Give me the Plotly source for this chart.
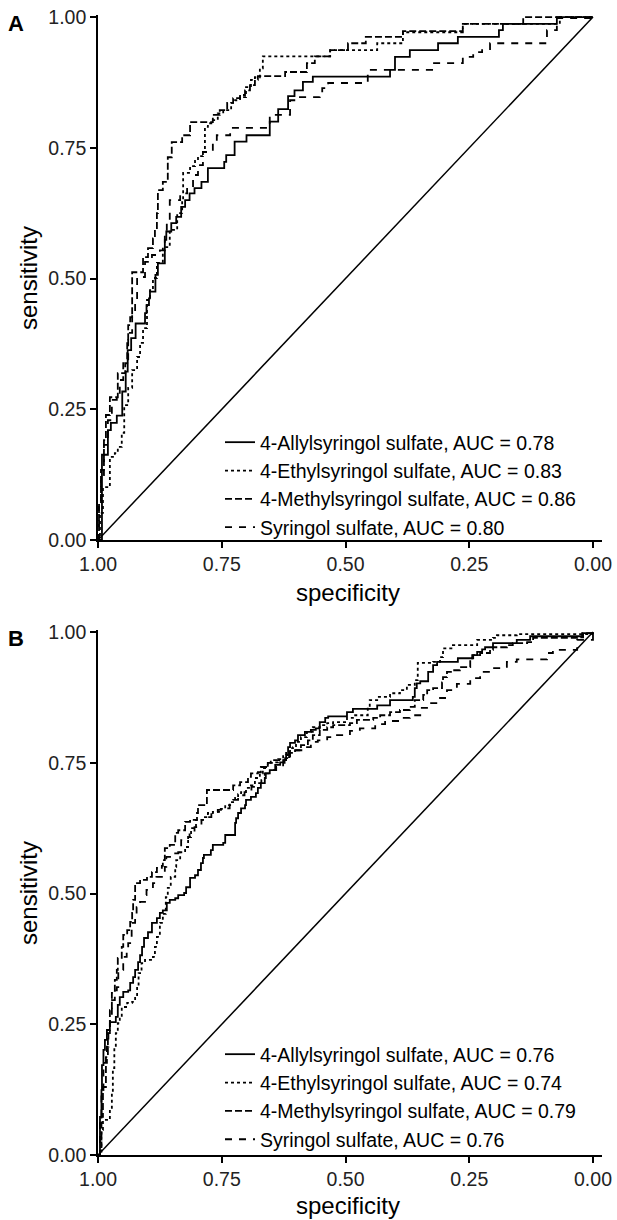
import plotly.graph_objects as go

# ---------------- data ----------------
TICK_VALS = [1.0, 0.75, 0.5, 0.25, 0.0]
TICK_TEXT = ["1.00", "0.75", "0.50", "0.25", "0.00"]

COMPOUNDS = ["4-Allylsyringol sulfate", "4-Ethylsyringol sulfate",
             "4-Methylsyringol sulfate", "Syringol sulfate"]
AUC_A = [0.78, 0.83, 0.86, 0.80]
AUC_B = [0.76, 0.74, 0.79, 0.76]

CHANCE_SPEC = [1.0, 0.0]
CHANCE_SENS = [0.0, 1.0]

# Panel A  (specificity, sensitivity) step points
A_ALLYL_SPEC = [1, 0.992, 0.980, 0.974, 0.962, 0.951, 0.944, 0.940, 0.933, 0.924, 0.905, 0.902, 0.897,
                0.895, 0.884, 0.879, 0.865, 0.862, 0.852, 0.842, 0.832, 0.824, 0.815, 0.805, 0.791, 0.778,
                0.745, 0.741, 0.724, 0.700, 0.653, 0.636, 0.616, 0.603, 0.586, 0.566, 0.410, 0.400, 0.370,
                0.313, 0.273, 0.190, 0.182, 0.073, 0]
A_ALLYL_SENS = [0, 0.163, 0.210, 0.224, 0.238, 0.284, 0.322, 0.363, 0.386, 0.414, 0.434, 0.449, 0.462,
                0.475, 0.507, 0.529, 0.574, 0.590, 0.606, 0.618, 0.637, 0.650, 0.663, 0.673, 0.685, 0.711,
                0.723, 0.736, 0.762, 0.774, 0.800, 0.824, 0.849, 0.860, 0.876, 0.886, 0.899, 0.924, 0.937,
                0.950, 0.962, 0.975, 0.987, 1.0, 1.0]

A_ETHYL_SPEC = [1, 0.996, 0.990, 0.976, 0.966, 0.960, 0.952, 0.947, 0.939, 0.931, 0.921, 0.915, 0.909,
                0.901, 0.895, 0.889, 0.881, 0.869, 0.855, 0.840, 0.830, 0.828, 0.814, 0.804, 0.798, 0.788,
                0.784, 0.778, 0.768, 0.758, 0.747, 0.731, 0.723, 0.713, 0.701, 0.691, 0.683, 0.673, 0.667,
                0.531, 0.436, 0.384, 0.263, 0.067, 0]
A_ETHYL_SENS = [0, 0.052, 0.101, 0.159, 0.166, 0.178, 0.205, 0.258, 0.291, 0.325, 0.350, 0.377, 0.405,
                0.459, 0.478, 0.501, 0.530, 0.560, 0.593, 0.625, 0.650, 0.702, 0.715, 0.725, 0.734, 0.742,
                0.790, 0.797, 0.803, 0.816, 0.822, 0.836, 0.841, 0.847, 0.866, 0.880, 0.885, 0.902, 0.925,
                0.937, 0.950, 0.971, 0.987, 1.0, 1.0]

A_METHYL_SPEC = [1, 0.998, 0.994, 0.988, 0.984, 0.976, 0.960, 0.945, 0.941, 0.939, 0.935, 0.931, 0.909,
                 0.899, 0.889, 0.885, 0.881, 0.879, 0.869, 0.859, 0.851, 0.830, 0.814, 0.768, 0.754, 0.739,
                 0.727, 0.713, 0.703, 0.693, 0.683, 0.677, 0.622, 0.578, 0.562, 0.531, 0.495, 0.459, 0.384,
                 0.263, 0.141, 0]
A_METHYL_SENS = [0, 0.067, 0.134, 0.191, 0.239, 0.273, 0.319, 0.338, 0.382, 0.411, 0.426, 0.512, 0.541,
                 0.558, 0.577, 0.593, 0.625, 0.669, 0.685, 0.732, 0.761, 0.774, 0.799, 0.813, 0.822, 0.836,
                 0.845, 0.851, 0.860, 0.870, 0.880, 0.887, 0.895, 0.912, 0.925, 0.937, 0.950, 0.962, 0.973,
                 0.987, 1.0, 1.0]

A_SYRINGOL_SPEC = [1, 0.998, 0.994, 0.988, 0.980, 0.972, 0.962, 0.956, 0.949, 0.939, 0.931, 0.925, 0.921,
                   0.905, 0.891, 0.875, 0.865, 0.861, 0.855, 0.834, 0.820, 0.808, 0.798, 0.788, 0.768, 0.760,
                   0.733, 0.653, 0.612, 0.592, 0.552, 0.547, 0.535, 0.455, 0.325, 0.263, 0.242, 0.224, 0.208,
                   0.093, 0.073, 0]
A_SYRINGOL_SENS = [0, 0.067, 0.124, 0.182, 0.229, 0.268, 0.273, 0.306, 0.338, 0.396, 0.434, 0.453, 0.503,
                   0.532, 0.545, 0.554, 0.583, 0.612, 0.650, 0.663, 0.675, 0.698, 0.717, 0.742, 0.759, 0.774,
                   0.788, 0.813, 0.841, 0.847, 0.855, 0.864, 0.874, 0.899, 0.912, 0.924, 0.933, 0.937, 0.950,
                   0.975, 0.998, 1.0]

# Panel B
B_ALLYL_SPEC = [1, 0.996, 0.993, 0.992, 0.989, 0.986, 0.982, 0.976, 0.964, 0.960, 0.956, 0.949, 0.939,
                0.935, 0.929, 0.925, 0.919, 0.915, 0.911, 0.907, 0.899, 0.891, 0.881, 0.875, 0.869, 0.861,
                0.855, 0.844, 0.838, 0.826, 0.822, 0.814, 0.804, 0.798, 0.792, 0.788, 0.786, 0.772, 0.768,
                0.747, 0.743, 0.723, 0.721, 0.717, 0.711, 0.703, 0.701, 0.691, 0.681, 0.677, 0.671, 0.663,
                0.661, 0.653, 0.642, 0.632, 0.626, 0.620, 0.616, 0.612, 0.602, 0.596, 0.582, 0.570, 0.560,
                0.552, 0.541, 0.535, 0.497, 0.485, 0.436, 0.410, 0.364, 0.360, 0.356, 0.349, 0.333, 0.323,
                0.315, 0.273, 0.244, 0.234, 0.224, 0.218, 0.202, 0.154, 0.127, 0.022, 0]
B_ALLYL_SENS = [0, 0.073, 0.124, 0.172, 0.201, 0.220, 0.239, 0.254, 0.264, 0.287, 0.302, 0.312, 0.315,
                0.329, 0.340, 0.354, 0.369, 0.382, 0.398, 0.415, 0.426, 0.444, 0.453, 0.463, 0.468, 0.482,
                0.488, 0.491, 0.497, 0.501, 0.512, 0.530, 0.535, 0.545, 0.558, 0.568, 0.574, 0.583, 0.593,
                0.597, 0.612, 0.635, 0.644, 0.654, 0.663, 0.669, 0.679, 0.685, 0.692, 0.702, 0.711, 0.721,
                0.730, 0.736, 0.746, 0.751, 0.755, 0.765, 0.780, 0.788, 0.793, 0.803, 0.809, 0.813, 0.816,
                0.828, 0.836, 0.839, 0.847, 0.853, 0.860, 0.870, 0.876, 0.893, 0.902, 0.906, 0.924, 0.937,
                0.943, 0.950, 0.956, 0.962, 0.967, 0.971, 0.979, 0.985, 0.992, 0.998, 1.0]

B_ETHYL_SPEC = [1, 0.996, 0.993, 0.990, 0.976, 0.972, 0.970, 0.967, 0.964, 0.960, 0.956, 0.952, 0.941,
                0.931, 0.925, 0.921, 0.918, 0.912, 0.905, 0.889, 0.885, 0.881, 0.875, 0.869, 0.863, 0.859,
                0.853, 0.844, 0.842, 0.834, 0.824, 0.818, 0.812, 0.802, 0.784, 0.778, 0.768, 0.752, 0.743,
                0.733, 0.723, 0.717, 0.711, 0.701, 0.691, 0.683, 0.673, 0.667, 0.657, 0.646, 0.636, 0.626,
                0.620, 0.612, 0.606, 0.600, 0.590, 0.578, 0.566, 0.552, 0.537, 0.525, 0.497, 0.485, 0.455,
                0.451, 0.436, 0.410, 0.390, 0.376, 0.360, 0.354, 0.323, 0.309, 0.303, 0.283, 0.234, 0.202,
                0.194, 0.154, 0]
B_ETHYL_SENS = [0, 0.004, 0.048, 0.067, 0.088, 0.120, 0.166, 0.206, 0.233, 0.252, 0.264, 0.283, 0.291,
                0.293, 0.302, 0.323, 0.348, 0.367, 0.373, 0.379, 0.398, 0.417, 0.444, 0.461, 0.493, 0.511,
                0.532, 0.551, 0.564, 0.579, 0.589, 0.608, 0.625, 0.641, 0.646, 0.654, 0.656, 0.662, 0.669,
                0.675, 0.683, 0.690, 0.694, 0.702, 0.707, 0.721, 0.730, 0.740, 0.750, 0.751, 0.757, 0.765,
                0.771, 0.778, 0.780, 0.790, 0.799, 0.809, 0.818, 0.822, 0.826, 0.828, 0.836, 0.841, 0.857,
                0.870, 0.876, 0.883, 0.889, 0.899, 0.908, 0.941, 0.943, 0.952, 0.969, 0.975, 0.985, 0.989,
                0.994, 0.996, 1.0]

B_METHYL_SPEC = [1, 0.996, 0.993, 0.990, 0.984, 0.980, 0.976, 0.972, 0.966, 0.962, 0.960, 0.952, 0.949,
                 0.941, 0.935, 0.931, 0.929, 0.925, 0.915, 0.901, 0.891, 0.881, 0.871, 0.869, 0.865, 0.855,
                 0.844, 0.838, 0.824, 0.814, 0.800, 0.798, 0.780, 0.727, 0.713, 0.697, 0.691, 0.677, 0.671,
                 0.657, 0.651, 0.622, 0.612, 0.602, 0.590, 0.576, 0.566, 0.552, 0.537, 0.525, 0.491, 0.477,
                 0.444, 0.430, 0.410, 0.390, 0.370, 0.360, 0.343, 0.335, 0.323, 0.305, 0.303, 0.295, 0.283,
                 0.269, 0.248, 0.242, 0.228, 0.208, 0.202, 0.174, 0.162, 0.133, 0.121, 0.032, 0.020, 0]
B_METHYL_SENS = [0, 0.015, 0.073, 0.130, 0.187, 0.233, 0.277, 0.310, 0.335, 0.354, 0.377, 0.398, 0.421,
                 0.430, 0.446, 0.463, 0.488, 0.520, 0.526, 0.532, 0.541, 0.549, 0.553, 0.564, 0.587, 0.593,
                 0.616, 0.621, 0.637, 0.641, 0.654, 0.669, 0.698, 0.707, 0.713, 0.723, 0.730, 0.732, 0.742,
                 0.750, 0.755, 0.759, 0.769, 0.774, 0.784, 0.793, 0.803, 0.813, 0.818, 0.822, 0.826, 0.832,
                 0.836, 0.841, 0.847, 0.851, 0.857, 0.870, 0.880, 0.889, 0.893, 0.904, 0.914, 0.924, 0.927,
                 0.933, 0.950, 0.956, 0.960, 0.966, 0.971, 0.975, 0.979, 0.981, 0.989, 0.990, 0.998, 1.0]

B_SYRINGOL_SPEC = [1, 0.996, 0.993, 0.989, 0.982, 0.979, 0.976, 0.972, 0.966, 0.962, 0.959, 0.949, 0.942,
                   0.939, 0.935, 0.932, 0.925, 0.922, 0.915, 0.905, 0.902, 0.889, 0.882, 0.869, 0.865, 0.862,
                   0.852, 0.838, 0.835, 0.832, 0.818, 0.815, 0.805, 0.791, 0.781, 0.771, 0.758, 0.744, 0.734,
                   0.727, 0.717, 0.704, 0.690, 0.677, 0.670, 0.663, 0.650, 0.640, 0.626, 0.623, 0.613, 0.603,
                   0.582, 0.570, 0.556, 0.537, 0.525, 0.491, 0.471, 0.440, 0.420, 0.390, 0.370, 0.349, 0.329,
                   0.309, 0.295, 0.275, 0.248, 0.228, 0.202, 0.174, 0.154, 0.093, 0.081, 0.032, 0]
B_SYRINGOL_SENS = [0, 0.061, 0.124, 0.176, 0.207, 0.239, 0.264, 0.296, 0.315, 0.321, 0.354, 0.379, 0.392,
                   0.405, 0.417, 0.444, 0.455, 0.474, 0.484, 0.497, 0.507, 0.520, 0.532, 0.541, 0.551, 0.570,
                   0.577, 0.579, 0.589, 0.602, 0.608, 0.618, 0.627, 0.641, 0.646, 0.656, 0.660, 0.663, 0.675,
                   0.679, 0.688, 0.694, 0.704, 0.711, 0.717, 0.730, 0.736, 0.742, 0.750, 0.761, 0.769, 0.774,
                   0.780, 0.790, 0.793, 0.799, 0.803, 0.811, 0.816, 0.824, 0.830, 0.836, 0.841, 0.855, 0.864,
                   0.874, 0.889, 0.901, 0.912, 0.924, 0.931, 0.943, 0.948, 0.960, 0.966, 0.985, 1.0]

# ---------------- styling ----------------
FONT = "Liberation Sans, Arial, Helvetica, sans-serif"
DASHES = ["solid", "3px,3px", "7px,3px", "7px,7px"]
W, H = 617, 1220

PANEL_A = [(A_ALLYL_SPEC, A_ALLYL_SENS), (A_ETHYL_SPEC, A_ETHYL_SENS),
           (A_METHYL_SPEC, A_METHYL_SENS), (A_SYRINGOL_SPEC, A_SYRINGOL_SENS)]
PANEL_B = [(B_ALLYL_SPEC, B_ALLYL_SENS), (B_ETHYL_SPEC, B_ETHYL_SENS),
           (B_METHYL_SPEC, B_METHYL_SENS), (B_SYRINGOL_SPEC, B_SYRINGOL_SENS)]

fig = go.Figure()

for panel, aucs, xa, ya, leg in [(PANEL_A, AUC_A, "x", "y", "legend"),
                                 (PANEL_B, AUC_B, "x2", "y2", "legend2")]:
    fig.add_trace(go.Scatter(x=CHANCE_SPEC, y=CHANCE_SENS, mode="lines",
                             line=dict(color="black", width=1.5),
                             xaxis=xa, yaxis=ya, showlegend=False, hoverinfo="skip"))
    for (sp, se), name, auc, dash in zip(panel, COMPOUNDS, aucs, DASHES):
        fig.add_trace(go.Scatter(x=sp, y=se, mode="lines", line_shape="hv",
                                 line=dict(color="black", width=1.8, dash=dash),
                                 name=f"{name}, AUC = {auc:.2f}",
                                 xaxis=xa, yaxis=ya, legend=leg))

def px2x(p):
    return p / W

def py2y(p):
    return 1 - p / H

axis_common = dict(showline=True, linecolor="black", linewidth=1.6, ticks="outside",
                   ticklen=6, tickwidth=1.6, tickcolor="black", showgrid=False, zeroline=False,
                   tickfont=dict(family=FONT, size=19.5, color="#222222"),
                   tickvals=TICK_VALS, ticktext=TICK_TEXT, fixedrange=True, automargin=False)

xdom = [px2x(98), px2x(602)]
xrange = [1.0, -0.0182]
yrange = [0.0, 1.004]

legend_common = dict(bgcolor="rgba(0,0,0,0)", borderwidth=0, xanchor="left", yanchor="top",
                     font=dict(family=FONT, size=19.5, color="black"), itemclick=False,
                     tracegroupgap=0)

fig.update_layout(
    width=W, height=H,
    margin=dict(l=0, r=0, t=0, b=0, pad=0, autoexpand=False),
    paper_bgcolor="white", plot_bgcolor="white",
    font=dict(family=FONT, color="black"),
    xaxis=dict(domain=xdom, range=xrange, anchor="y", **axis_common),
    yaxis=dict(domain=[py2y(540), py2y(15)], range=yrange, anchor="x", **axis_common),
    xaxis2=dict(domain=xdom, range=xrange, anchor="y2", **axis_common),
    yaxis2=dict(domain=[py2y(1155), py2y(630)], range=yrange, anchor="x2", **axis_common),
    legend=dict(x=px2x(220), y=py2y(423), **legend_common),
    legend2=dict(x=px2x(220), y=py2y(1035), **legend_common),
    showlegend=True,
)

annots = [
    dict(text="<b>A</b>", x=px2x(16), y=py2y(24), size=22, angle=0),
    dict(text="<b>B</b>", x=px2x(16), y=py2y(638), size=22, angle=0),
    dict(text="sensitivity", x=px2x(28), y=py2y(278), size=24, angle=-90),
    dict(text="sensitivity", x=px2x(28), y=py2y(893), size=24, angle=-90),
    dict(text="specificity", x=px2x(348), y=py2y(592), size=24, angle=0),
    dict(text="specificity", x=px2x(348), y=py2y(1205), size=24, angle=0),
]
for a in annots:
    fig.add_annotation(text=a["text"], x=a["x"], y=a["y"], xref="paper", yref="paper",
                       xanchor="center", yanchor="middle", showarrow=False,
                       textangle=a["angle"], font=dict(family=FONT, size=a["size"], color="black"))

fig.write_html("out.html")
